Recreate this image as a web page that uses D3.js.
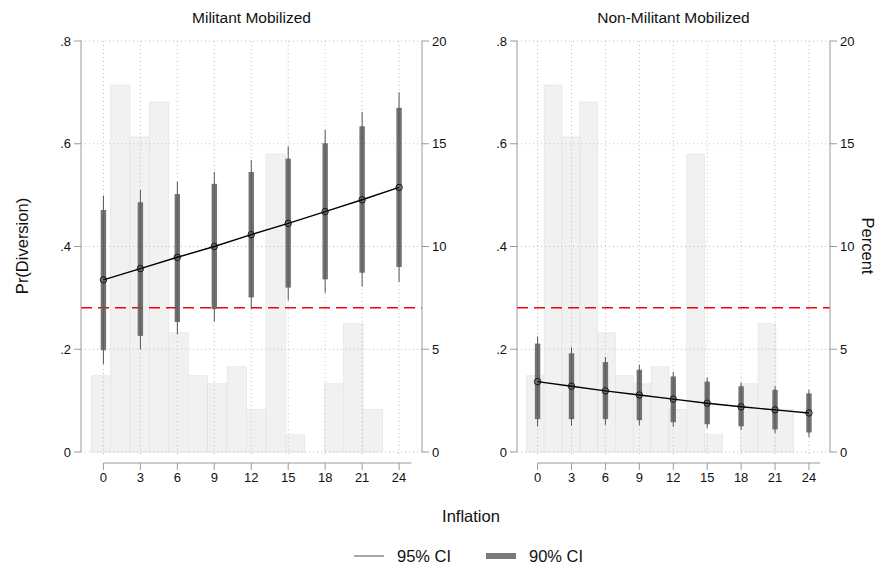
<!DOCTYPE html>
<html>
<head>
<meta charset="utf-8">
<script src="https://cdn.jsdelivr.net/npm/d3@7"></script>
<style>
  body { margin: 0; background: #fff; }
  text { font-family: "Liberation Sans", Arial, sans-serif; fill: #111; }
</style>
</head>
<body>
<svg id="chart" width="880" height="570"></svg>
<script>
// inflation values where margins were computed
const inflation = [0, 3, 6, 9, 12, 15, 18, 21, 24];

// Militant Mobilized: point estimate, 90% CI, 95% CI
const milEst  = [0.335, 0.357, 0.379, 0.400, 0.423, 0.445, 0.468, 0.491, 0.515];
const milHi90 = [0.471, 0.486, 0.502, 0.522, 0.545, 0.571, 0.601, 0.634, 0.670];
const milLo90 = [0.198, 0.226, 0.253, 0.278, 0.301, 0.320, 0.336, 0.349, 0.360];
const milHi95 = [0.499, 0.510, 0.526, 0.545, 0.568, 0.595, 0.627, 0.662, 0.700];
const milLo95 = [0.171, 0.200, 0.229, 0.254, 0.278, 0.295, 0.310, 0.322, 0.331];

// Non-Militant Mobilized
const nonEst  = [0.137, 0.128, 0.119, 0.111, 0.103, 0.095, 0.088, 0.082, 0.076];
const nonHi90 = [0.211, 0.192, 0.175, 0.160, 0.147, 0.137, 0.128, 0.121, 0.114];
const nonLo90 = [0.064, 0.064, 0.064, 0.062, 0.058, 0.054, 0.050, 0.044, 0.038];
const nonHi95 = [0.225, 0.204, 0.185, 0.170, 0.156, 0.145, 0.135, 0.128, 0.121];
const nonLo95 = [0.050, 0.051, 0.053, 0.052, 0.049, 0.046, 0.043, 0.037, 0.029];

// baseline (red dashed)
const baseline = 0.281;

// histogram of inflation (percent), bins start at -1 with width ~1.577
const histStart = -1;
const histWidth = 1.577;
const histPct = [3.71, 17.86, 15.33, 17.03, 5.80, 3.71, 3.32, 4.15, 2.07, 14.5, 0.84, 0, 3.32, 6.24, 2.07];

const yTicks = [0, 0.2, 0.4, 0.6, 0.8];
const pctTicks = [0, 5, 10, 15, 20];

const svg = d3.select("#chart");
const plotTop = 41, plotBottom = 452;

const panels = [
  { title: "Militant Mobilized", left: 81, right: 422, est: milEst, hi90: milHi90, lo90: milLo90, hi95: milHi95, lo95: milLo95 },
  { title: "Non-Militant Mobilized", left: 517, right: 830, est: nonEst, hi90: nonHi90, lo90: nonLo90, hi95: nonHi95, lo95: nonLo95 }
];

const fmt = d => d === 0 ? "0" : d3.format(".1f")(d).replace(/^0/, "");

panels.forEach((p) => {
  const x = d3.scaleLinear().domain([-1.82, 25.86]).range([p.left, p.right]);
  const y = d3.scaleLinear().domain([0, 0.8]).range([plotBottom, plotTop]);
  const yPct = d3.scaleLinear().domain([0, 20]).range([plotBottom, plotTop]);
  const g = svg.append("g");

  // histogram bars
  g.selectAll(".hist")
    .data(histPct)
    .enter()
    .append("rect")
    .attr("x", (d, i) => x(histStart + i * histWidth))
    .attr("width", (d, i) => x(histStart + (i + 1) * histWidth) - x(histStart + i * histWidth))
    .attr("y", d => yPct(d))
    .attr("height", d => plotBottom - yPct(d))
    .attr("fill", "#f1f1f1")
    .attr("stroke", d => d > 0 ? "#e2e2e2" : "none")
    .attr("stroke-width", 0.6);

  // dotted grid
  g.selectAll(".hgrid")
    .data(yTicks)
    .enter()
    .append("line")
    .attr("x1", p.left).attr("x2", p.right)
    .attr("y1", d => y(d)).attr("y2", d => y(d))
    .attr("stroke", "#bdbdbd").attr("stroke-width", 1)
    .attr("stroke-dasharray", "1,3");
  g.selectAll(".vgrid")
    .data(inflation)
    .enter()
    .append("line")
    .attr("x1", d => x(d)).attr("x2", d => x(d))
    .attr("y1", plotTop).attr("y2", plotBottom + 5)
    .attr("stroke", "#bdbdbd").attr("stroke-width", 1)
    .attr("stroke-dasharray", "1,3");

  // red baseline
  g.append("line")
    .attr("x1", p.left).attr("x2", p.right)
    .attr("y1", y(baseline)).attr("y2", y(baseline))
    .attr("stroke", "#f0000f").attr("stroke-width", 1.5)
    .attr("stroke-dasharray", "11,6");

  // 95% CI thin lines
  g.selectAll(".ci95")
    .data(inflation)
    .enter()
    .append("line")
    .attr("x1", d => x(d)).attr("x2", d => x(d))
    .attr("y1", (d, i) => y(p.hi95[i])).attr("y2", (d, i) => y(p.lo95[i]))
    .attr("stroke", "#555").attr("stroke-width", 1);

  // 90% CI thick bars
  g.selectAll(".ci90")
    .data(inflation)
    .enter()
    .append("rect")
    .attr("x", d => x(d) - 2.7)
    .attr("width", 5.4)
    .attr("y", (d, i) => y(p.hi90[i]))
    .attr("height", (d, i) => y(p.lo90[i]) - y(p.hi90[i]))
    .attr("fill", "#5f5f5f").attr("fill-opacity", 0.88);

  // estimate line + hollow markers
  const line = d3.line().x(d => x(d)).y((d, i) => y(p.est[i]));
  g.append("path")
    .datum(inflation)
    .attr("d", line)
    .attr("fill", "none").attr("stroke", "#000").attr("stroke-width", 1.4);
  g.selectAll(".pt")
    .data(inflation)
    .enter()
    .append("circle")
    .attr("cx", d => x(d)).attr("cy", (d, i) => y(p.est[i]))
    .attr("r", 3.2)
    .attr("fill", "none").attr("stroke", "#111").attr("stroke-width", 1);

  // left axis
  const axisCol = "#9a9a9a";
  g.append("line").attr("x1", p.left).attr("x2", p.left).attr("y1", plotTop).attr("y2", plotBottom)
    .attr("stroke", axisCol);
  yTicks.forEach(t => {
    g.append("line").attr("x1", p.left - 7).attr("x2", p.left).attr("y1", y(t)).attr("y2", y(t)).attr("stroke", axisCol);
    g.append("text").attr("x", p.left - 10).attr("y", y(t)).attr("dy", "0.35em")
      .attr("text-anchor", "end").style("font-size", "13px").text(fmt(t));
  });

  // right axis (percent)
  g.append("line").attr("x1", p.right).attr("x2", p.right).attr("y1", plotTop).attr("y2", plotBottom)
    .attr("stroke", axisCol);
  pctTicks.forEach(t => {
    g.append("line").attr("x1", p.right).attr("x2", p.right + 7).attr("y1", yPct(t)).attr("y2", yPct(t)).attr("stroke", axisCol);
    g.append("text").attr("x", p.right + 10).attr("y", yPct(t)).attr("dy", "0.35em")
      .attr("text-anchor", "start").style("font-size", "13px").text(t);
  });

  // bottom axis
  const xAxisY = 463;
  g.append("line").attr("x1", x(0)).attr("x2", x(25)).attr("y1", xAxisY).attr("y2", xAxisY)
    .attr("stroke", axisCol);
  inflation.forEach(t => {
    g.append("line").attr("x1", x(t)).attr("x2", x(t)).attr("y1", xAxisY).attr("y2", xAxisY + 7).attr("stroke", axisCol);
    g.append("text").attr("x", x(t)).attr("y", 482)
      .attr("text-anchor", "middle").style("font-size", "13px").text(t);
  });

  // panel title
  g.append("text").attr("x", (p.left + p.right) / 2).attr("y", 23)
    .attr("text-anchor", "middle").style("font-size", "15.5px").text(p.title);
});

// axis titles
svg.append("text")
  .attr("transform", "translate(28,246) rotate(-90)")
  .attr("text-anchor", "middle").style("font-size", "16.5px").text("Pr(Diversion)");
svg.append("text")
  .attr("transform", "translate(862,246) rotate(90)")
  .attr("text-anchor", "middle").style("font-size", "16.5px").text("Percent");
svg.append("text")
  .attr("x", 471).attr("y", 522)
  .attr("text-anchor", "middle").style("font-size", "16.5px").text("Inflation");

// legend
svg.append("line").attr("x1", 354).attr("x2", 384).attr("y1", 556).attr("y2", 556)
  .attr("stroke", "#8a8a8a").attr("stroke-width", 1.5);
svg.append("text").attr("x", 397).attr("y", 562).style("font-size", "16.5px").text("95% CI");
svg.append("rect").attr("x", 486).attr("y", 553).attr("width", 30).attr("height", 6)
  .attr("fill", "#7a7a7a");
svg.append("text").attr("x", 529).attr("y", 562).style("font-size", "16.5px").text("90% CI");
</script>
</body>
</html>
